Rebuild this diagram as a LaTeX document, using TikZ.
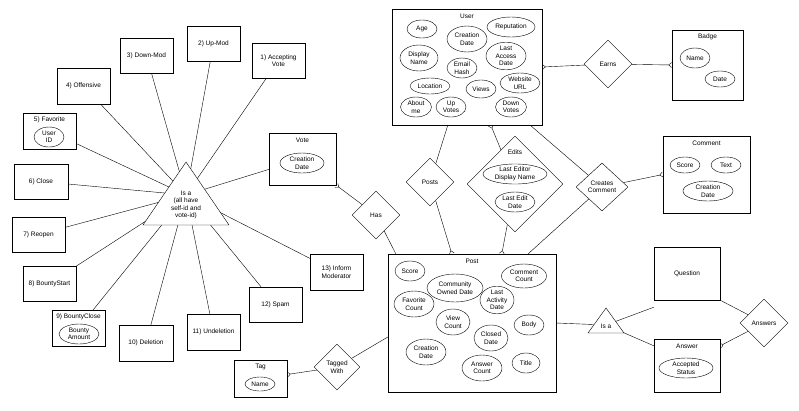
\documentclass[tikz,border=0pt]{standalone}
\usepackage{fontspec}
\setmainfont{Liberation Sans}
\usetikzlibrary{shapes.geometric,arrows.meta,shadows,calc}
\pgfdeclarelayer{bg}\pgfsetlayers{bg,main}
\begin{document}
\begin{tikzpicture}[x=1pt,y=-1pt,
  every node/.style={font=\fontsize{6.5}{7.5}\selectfont,align=center,inner sep=0.5pt},
  box/.style={draw,fill=white,rectangle,drop shadow={opacity=0.25,shadow xshift=1pt,shadow yshift=-1pt}},
  att/.style 2 args={draw,ellipse,fill=white,minimum width=#1,minimum height=#2,inner sep=0pt},
  dia/.style={draw,diamond,fill=white,minimum width=#1,minimum height=#1,inner sep=0pt},
  cf/.style={-{Straight Barb[reversed,length=3pt,width=5pt]}}]
\useasboundingbox (0,0) rectangle (799,410);
% left cluster
\coordinate (tc) at (186,195);
\node[box,minimum width=53,minimum height=35] (b1) at (278.5,60.5) {1) Accepting\\Vote};
\node[box,minimum width=53,minimum height=35] (b2) at (213.5,43.5) {2) Up-Mod};
\node[box,minimum width=53,minimum height=35] (b3) at (146.5,55.5) {3) Down-Mod};
\node[box,minimum width=53,minimum height=36] (b4) at (83.5,86) {4) Offensive};
\node[box,minimum width=53,minimum height=36] (b5) at (49.5,131) {};
\node at ($(b5.north)+(0,7)$) {5) Favorite};
\node[att={30}{20}] (uid) at (49,137) {User\\ID};
\node[box,minimum width=54,minimum height=35] (b6) at (41,181.5) {6) Close};
\node[box,minimum width=53,minimum height=35] (b7) at (38.5,234.5) {7) Reopen};
\node[box,minimum width=53,minimum height=35] (b8) at (49.5,283.5) {8) BountyStart};
\node[box,minimum width=53,minimum height=36] (b9) at (78.5,328) {};
\node at ($(b9.north)+(0,7)$) {9) BountyClose};
\node[att={40}{20}] (ba) at (79,334) {Bounty\\Amount};
\node[box,minimum width=54,minimum height=36] (b10) at (146,343) {10) Deletion};
\node[box,minimum width=53,minimum height=36] (b11) at (213.5,332) {11) Undeletion};
\node[box,minimum width=53,minimum height=35] (b12) at (275.5,304.5) {12) Spam};
\node[box,minimum width=53,minimum height=36] (b13) at (336.5,272) {13) Inform\\Moderator};
\node[box,minimum width=67,minimum height=52] (vote) at (302.5,159) {};
\node at ($(vote.north)+(0,7)$) {Vote};
\node[att={44}{20}] (vcd) at (302,163) {Creation\\Date};
\fill[white] (186,162) -- (229,225) -- (143,225) -- cycle;
\draw (186,162) -- (229,225) -- (143,225) -- cycle;
\node (isa1) at (186,205) {Is a\\(all have\\self-id and\\vote-id)};
\begin{pgfonlayer}{bg}
\foreach \b in {b1,b2,b3,b4,b5,b6,b7,b8,b9,b10,b11,b12,b13,vote} \draw (\b) -- (tc);
\end{pgfonlayer}
\node[dia=48] (has) at (376,215) {Has};
\node[box,minimum width=53,minimum height=37] (tag) at (260.5,378.5) {};
\node at ($(tag.north)+(0,7)$) {Tag};
\node[att={30}{14}] (tn) at (260,384) {Name};
\node[dia=46] (tw) at (337,367) {Tagged\\With};
% User
\node[box,minimum width=150,minimum height=116] (user) at (467,67) {};
\node at ($(user.north)+(0,7)$) {User};
\node[att={30}{18}] at (422,29) {Age};
\node[att={40}{26}] at (467,39) {Creation\\Date};
\node[att={48}{20}] at (511,27) {Reputation};
\node[att={38}{26}] at (419,58) {Display\\Name};
\node[att={40}{26}] at (506,56) {Last\\Access\\Date};
\node[att={30}{20}] at (462,68) {Email\\Hash};
\node[att={40}{16}] at (430,86) {Location};
\node[att={30}{18}] at (481,89) {Views};
\node[att={40}{20}] at (520,83) {Website\\URL};
\node[att={31}{20}] at (416,107) {About\\me};
\node[att={30}{20}] at (451,107) {Up\\Votes};
\node[att={31}{20}] at (511,107) {Down\\Votes};
\node[dia=48] (earns) at (608,64) {Earns};
\node[box,minimum width=71,minimum height=70] (badge) at (707.5,65) {};
\node at ($(badge.north)+(0,7)$) {Badge};
\node[att={30}{20}] at (695,58) {Name};
\node[att={30}{16}] at (720,79) {Date};
\node[dia=48] (posts) at (430,182) {Posts};
\node[dia=96] (edits) at (515,184) {};
\node at (515,152) {Edits};
\node[att={64}{20}] at (515,174) {Last Editor\\Display Name};
\node[att={40}{20}] at (515,202) {Last Edit\\Date};
\node[draw,diamond,fill=white,minimum width=52,minimum height=48,inner sep=0pt] (cc) at (602,187) {Creates\\Comment};
\node[box,minimum width=87,minimum height=77] (comment) at (706.5,174.5) {};
\node at ($(comment.north)+(0,7)$) {Comment};
\node[att={30}{16}] at (685,165) {Score};
\node[att={30}{16}] at (726,165) {Text};
\node[att={50}{20}] at (708,191) {Creation\\Date};
% Post
\node[box,minimum width=168,minimum height=138] (post) at (472,323) {};
\node at ($(post.north)+(0,7)$) {Post};
\node[att={30}{20}] at (410,271) {Score};
\node[att={56}{28}] at (455,288) {Community\\Owned Date};
\node[att={45}{24}] at (524,276) {Comment\\Count};
\node[att={40}{26}] at (414,304) {Favorite\\Count};
\node[att={34}{26}] at (497,300) {Last\\Activity\\Date};
\node[att={34}{26}] at (453,322) {View\\Count};
\node[att={30}{20}] at (529,325) {Body};
\node[att={34}{26}] at (491,338) {Closed\\Date};
\node[att={40}{26}] at (426,352) {Creation\\Date};
\node[att={40}{26}] at (482,368) {Answer\\Count};
\node[att={28}{20}] at (526,363) {Title};
\coordinate (isac) at (606,325);
\fill[white] (606,308) -- (624,333) -- (588,333) -- cycle;
\draw (606,308) -- (624,333) -- (588,333) -- cycle;
\node (isa2) at (606,326) {Is a};
\node[box,minimum width=66,minimum height=53] (question) at (687,273.5) {Question};
\node[box,minimum width=66,minimum height=53] (answer) at (687,365.5) {};
\node at ($(answer.north)+(0,7)$) {Answer};
\node[att={54}{20}] at (686,368) {Accepted\\Status};
\node[dia=48] (answers) at (764,323) {Answers};
\begin{pgfonlayer}{bg}
\draw[cf] (has) -- (vote.south east);
\draw (has) -- ([xshift=8pt]post.north west);
\draw[cf] (tw) -- (tag);
\draw (tw) -- ([yshift=-14pt]post.west);
\draw ([xshift=56pt]user.south west) -- (posts);
\draw[cf] (posts) -- ([xshift=64pt]post.north west);
\draw[cf] (edits) -- ([xshift=99pt]user.south west);
\draw[cf] (edits) -- ([xshift=114pt]post.north west);
\draw ([xshift=-12pt]user.south east) -- (cc);
\draw (cc) -- ([xshift=-28pt]post.north east);
\draw[cf] (cc) -- (comment.west);
\draw[cf] (earns) -- (user.east);
\draw[cf] (earns) -- (badge.west);
\draw (post.east) -- (isac);
\draw (isac) -- ([yshift=-7pt]question.south west);
\draw (isac) -- ([yshift=-7pt]answer.north west);
\draw (question.south east) -- (answers);
\draw[cf] (answers) -- ([yshift=-7pt]answer.north east);
\end{pgfonlayer}
\end{tikzpicture}
\end{document}
